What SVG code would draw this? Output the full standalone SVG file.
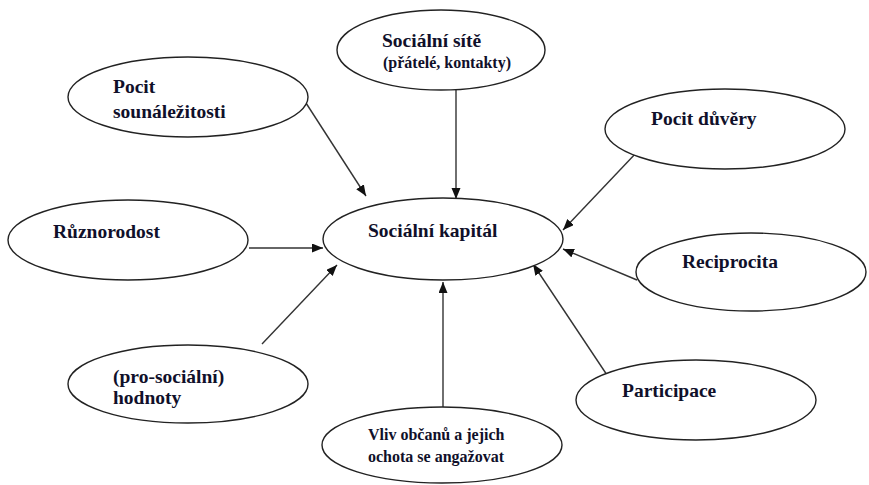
<svg xmlns="http://www.w3.org/2000/svg" width="869" height="485" viewBox="0 0 869 485">
<style>
.node ellipse{fill:#fff;stroke:#222;stroke-width:1.4}
.t{font-family:"Liberation Serif","Times New Roman",serif;font-weight:bold;font-size:19.5px;fill:#10102a}
.s{font-size:16px}
.conn line{stroke:#333;stroke-width:1.4;marker-end:url(#ah)}
</style>
<defs>
<marker id="ah" markerUnits="userSpaceOnUse" markerWidth="12" markerHeight="10" refX="11" refY="4.5" orient="auto">
<path d="M0,0 L11,4.5 L0,9 z" fill="#111"/>
</marker>
</defs>
<rect width="869" height="485" fill="#fff"/>
<g id="connectors" class="conn">
<line x1="456" y1="90" x2="456" y2="199"/>
<line x1="306" y1="103" x2="366" y2="196"/>
<line x1="637" y1="152" x2="563" y2="230"/>
<line x1="249" y1="248" x2="323" y2="248"/>
<line x1="262" y1="344" x2="337" y2="265"/>
<line x1="637" y1="280" x2="563" y2="249"/>
<line x1="607" y1="375" x2="533" y2="264"/>
<line x1="443" y1="407" x2="443" y2="282"/>
</g>
<g id="center" class="node">
<ellipse cx="443" cy="239" rx="120" ry="41"/>
<text class="t" x="368" y="237">Sociální kapitál</text>
</g>
<g id="site" class="node">
<ellipse cx="441" cy="50" rx="104" ry="40"/>
<text class="t" x="382" y="47">Sociální sítě</text>
<text class="t s" x="383" y="68">(přátelé, kontakty)</text>
</g>
<g id="sounalezitost" class="node">
<ellipse cx="188" cy="97" rx="120" ry="40"/>
<text class="t" x="113" y="93">Pocit</text>
<text class="t" x="113" y="118">sounáležitosti</text>
</g>
<g id="duvera" class="node">
<ellipse cx="725" cy="129" rx="120" ry="40"/>
<text class="t" x="651" y="125">Pocit důvěry</text>
</g>
<g id="ruznorodost" class="node">
<ellipse cx="128" cy="240" rx="120" ry="40"/>
<text class="t" x="53" y="238">Různorodost</text>
</g>
<g id="reciprocita" class="node">
<ellipse cx="751" cy="272" rx="115" ry="39"/>
<text class="t" x="682" y="268">Reciprocita</text>
</g>
<g id="hodnoty" class="node">
<ellipse cx="188" cy="384" rx="120" ry="39"/>
<text class="t" x="113" y="383">(pro-sociální)</text>
<text class="t" x="113" y="404">hodnoty</text>
</g>
<g id="participace" class="node">
<ellipse cx="696" cy="400" rx="120" ry="40"/>
<text class="t" x="622" y="397">Participace</text>
</g>
<g id="vliv" class="node">
<ellipse cx="442" cy="445" rx="120" ry="38"/>
<text class="t s" x="368" y="440">Vliv občanů a jejich</text>
<text class="t s" x="368" y="462">ochota se angažovat</text>
</g>
</svg>
